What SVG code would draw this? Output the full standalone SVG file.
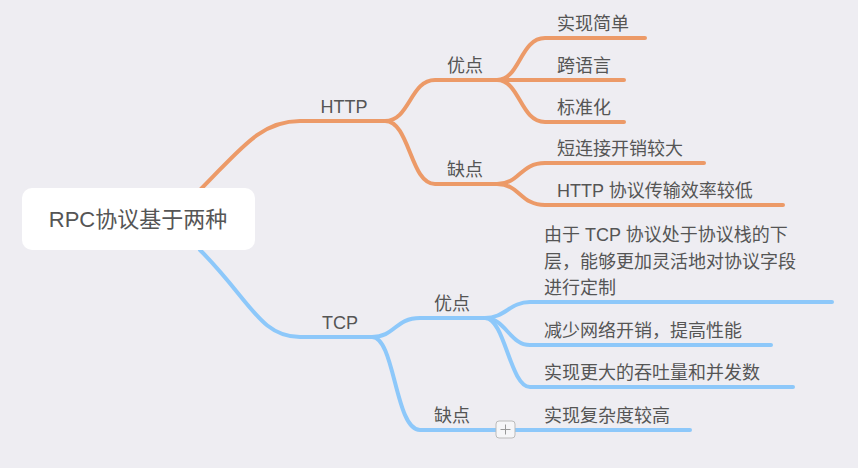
<svg xmlns="http://www.w3.org/2000/svg" width="858" height="468" viewBox="0 0 858 468">
<style>
text{font-family:"Liberation Sans","Noto Sans CJK SC",sans-serif;fill:#555;font-size:18px}
.o{fill:none;stroke:#ec9a68;stroke-width:4;stroke-linecap:round}
.b{fill:none;stroke:#8dc8fa;stroke-width:4;stroke-linecap:round}
</style>
<rect width="858" height="468" fill="#eeedf2"/>
<g id="connectors">
<path class="o" d="M200,190 C240,150 260,121 300,121 H385"/>
<path class="o" d="M385,121 C410,121 410,80 435,80 H497"/>
<path class="o" d="M385,121 C410,121 410,184 435,184 H497"/>
<path class="o" d="M497,80 C520,80 520,38 545,38 H645"/>
<path class="o" d="M497,80 H624"/>
<path class="o" d="M497,80 C520,80 520,122 545,122 H624"/>
<path class="o" d="M497,184 C520,184 520,163 545,163 H704"/>
<path class="o" d="M497,184 C520,184 520,205 545,205 H783"/>
<path class="b" d="M200,250 C250,300 260,337 300,337 H372"/>
<path class="b" d="M372,337 C395,337 395,318 420,318 H485"/>
<path class="b" d="M372,337 C395,337 395,430 420,430 H485"/>
<path class="b" d="M485,318 C505,318 510,302 530,302 H832"/>
<path class="b" d="M485,318 C505,318 510,345 530,345 H771"/>
<path class="b" d="M485,318 C505,318 510,387 530,387 H793"/>
<path class="b" d="M485,430 H690"/>
</g>
<g id="root"><rect x="22" y="188" width="233" height="62" rx="10" fill="#fff"/><text x="138" y="227" text-anchor="middle" style="font-size:22px">RPC协议基于两种</text></g>
<g id="http"><text x="344" y="113" text-anchor="middle">HTTP</text></g>
<g id="hp"><text x="465" y="72" text-anchor="middle">优点</text></g>
<g id="hc"><text x="465" y="176" text-anchor="middle">缺点</text></g>
<g id="h1"><text x="557" y="30">实现简单</text></g>
<g id="h2"><text x="557" y="72">跨语言</text></g>
<g id="h3"><text x="557" y="114">标准化</text></g>
<g id="h4"><text x="557" y="155">短连接开销较大</text></g>
<g id="h5"><text x="557" y="197">HTTP 协议传输效率较低</text></g>
<g id="tcp"><text x="340" y="329" text-anchor="middle">TCP</text></g>
<g id="tp"><text x="452" y="310" text-anchor="middle">优点</text></g>
<g id="tc"><text x="452" y="422" text-anchor="middle">缺点</text></g>
<g id="t1"><text x="544" y="241">由于 TCP 协议处于协议栈的下</text><text x="544" y="268">层，能够更加灵活地对协议字段</text><text x="544" y="294">进行定制</text></g>
<g id="t2"><text x="544" y="337">减少网络开销，提高性能</text></g>
<g id="t3"><text x="544" y="379">实现更大的吞吐量和并发数</text></g>
<g id="t4"><text x="544" y="422">实现复杂度较高</text></g>
<g id="plus"><rect x="496" y="421" width="19" height="17" rx="3" fill="#f6f6f8" stroke="#bbb"/><path d="M505.5,424.5 V434.5 M500.5,429.5 H510.5" stroke="#999" stroke-width="1"/></g>
</svg>
